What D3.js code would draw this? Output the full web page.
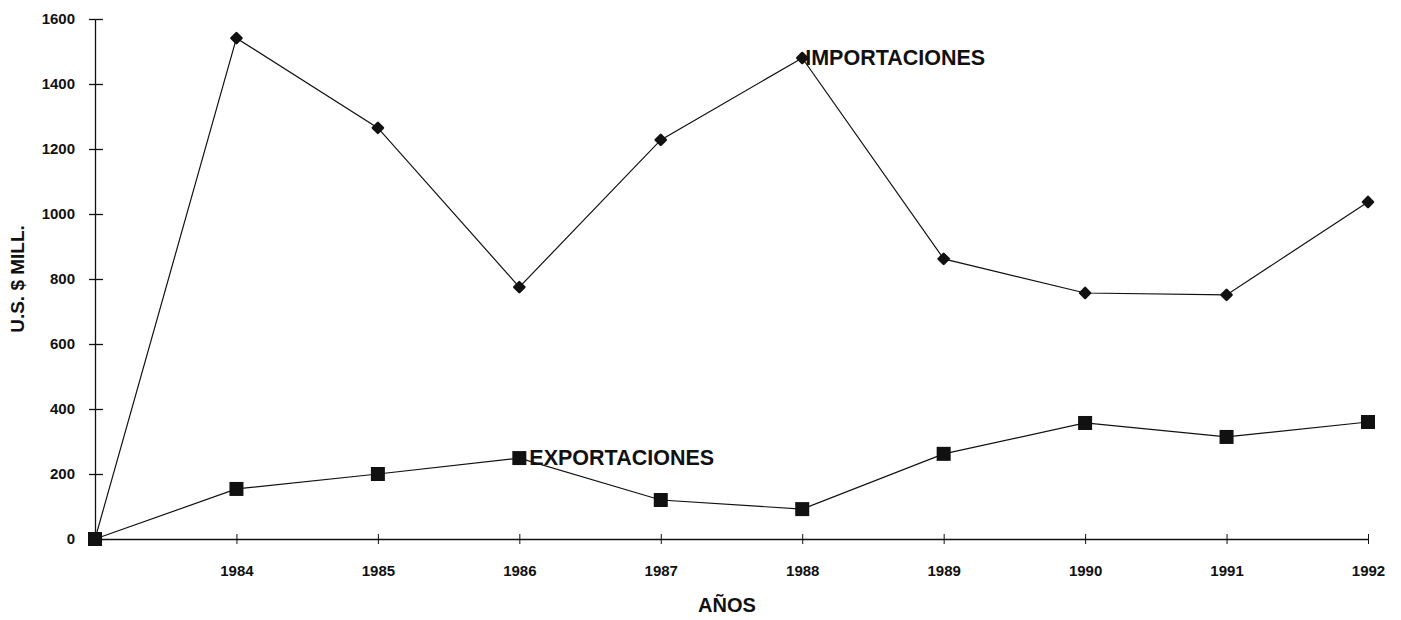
<!DOCTYPE html>
<html>
<head>
<meta charset="utf-8">
<script src="https://cdn.jsdelivr.net/npm/d3@7"></script>
<style>
  body { margin:0; background:#fff; }
  text { font-family: "Liberation Sans", Arial, sans-serif; fill:#111; }
</style>
</head>
<body>
<svg width="1401" height="620"></svg>
<script>
// data
const years = ['1983','1984','1985','1986','1987','1988','1989','1990','1991','1992']
const imports = [0,1541,1265,775,1228,1480,862,757,751,1037]
const exports = [0,154,200,249,120,92,262,357,314,360]
const yTicks = [0,200,400,600,800,1000,1200,1400,1600]

const svg = d3.select('svg'),
  margin = {top:19,right:33,bottom:81,left:95},
  width = svg.attr('width') - margin.left - margin.right,
  height = svg.attr('height') - margin.top - margin.bottom

const container = svg.append('g')
  .attr('transform',`translate(${margin.left},${margin.top})`)

const x = d3.scalePoint().domain(years).range([0,width])
const y = d3.scaleLinear().domain([0,1600]).range([height,0])

// y axis with ticks crossing the line
const yAxis = container.append('g')
  .call(d3.axisLeft(y).tickValues(yTicks).tickSize(0).tickPadding(20).tickFormat(d3.format('d')))
yAxis.select('.domain').attr('stroke','#111').attr('stroke-width',1.3)
yAxis.selectAll('.tick line').attr('x1',-6).attr('x2',8).attr('stroke','#111').attr('stroke-width',1.3)
yAxis.selectAll('text').attr('font-size',15).attr('font-weight','bold').attr('fill','#111')

// x axis, first category has no label
const xAxis = container.append('g')
  .attr('transform',`translate(0,${height})`)
  .call(d3.axisBottom(x).tickSize(0).tickPadding(26).tickFormat(d => d==='1983'?'':d))
xAxis.select('.domain').attr('stroke','#111').attr('stroke-width',1.6)
xAxis.selectAll('.tick line').attr('y1',-5).attr('y2',5).attr('stroke','#111').attr('stroke-width',1)
xAxis.selectAll('text').attr('font-size',15).attr('font-weight','bold').attr('fill','#111')

const line = d3.line().x((d,i) => x(years[i])).y(d => y(d))

container.append('path').datum(imports)
  .attr('fill','none').attr('stroke','#111').attr('stroke-width',1.2)
  .attr('d',line)
container.append('path').datum(exports)
  .attr('fill','none').attr('stroke','#111').attr('stroke-width',1.2)
  .attr('d',line)

// diamonds for imports (rotated squares)
container.selectAll('.imp').data(imports.slice(1))
  .enter().append('rect')
  .attr('class','imp')
  .attr('x',-4.8).attr('y',-4.8).attr('width',9.6).attr('height',9.6)
  .attr('rx',1.2)
  .attr('transform',(d,i) => `translate(${x(years[i+1])},${y(d)}) rotate(45)`)
  .attr('fill','#111')

// squares for exports
container.selectAll('.exp').data(exports)
  .enter().append('rect')
  .attr('class','exp')
  .attr('x',(d,i) => x(years[i])-7)
  .attr('y',d => y(d)-7)
  .attr('width',14).attr('height',14)
  .attr('fill','#111')

container.append('text')
  .attr('x',x('1988')+3).attr('y',y(1480)+7)
  .attr('font-size',21.5).attr('font-weight','bold')
  .text('IMPORTACIONES')
container.append('text')
  .attr('x',x('1986')+10).attr('y',y(249)+7)
  .attr('font-size',21.5).attr('font-weight','bold')
  .text('EXPORTACIONES')

svg.append('text')
  .attr('transform','translate(24,279) rotate(-90)')
  .attr('text-anchor','middle')
  .attr('font-size',19).attr('font-weight','bold')
  .text('U.S. $ MILL.')
svg.append('text')
  .attr('x',727).attr('y',612)
  .attr('text-anchor','middle')
  .attr('font-size',20).attr('font-weight','bold')
  .text('AÑOS')
</script>
</body>
</html>
